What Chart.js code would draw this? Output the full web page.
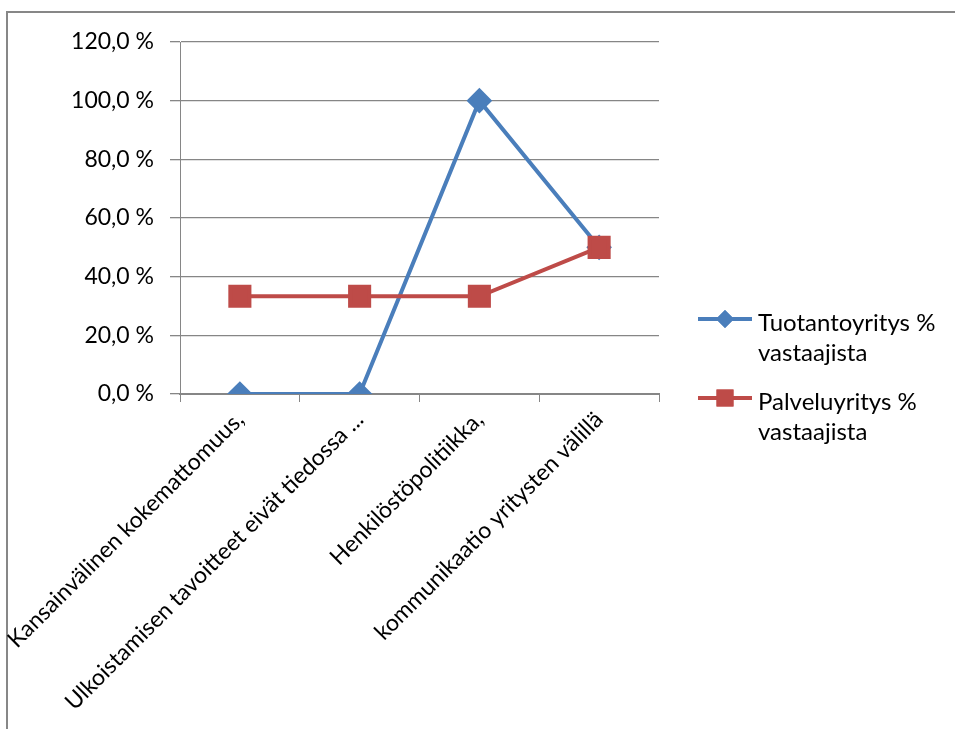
<!DOCTYPE html>
<html>
<head>
<meta charset="utf-8">
<script src="https://cdn.jsdelivr.net/npm/chart.js@4"></script>
<style>
  html, body { margin: 0; padding: 0; background: #fff; }
  #wrap { position: relative; width: 955px; height: 729px; }
  #frame { position: absolute; left: 6px; top: 11px; right: -10px; bottom: -10px;
           border-left: 2px solid #878787; border-top: 2px solid #878787; }
  canvas { position: absolute; left: 0; top: 0; }
</style>
</head>
<body>
<div id="wrap">
  <div id="frame"></div>
  <canvas id="chart" width="955" height="729"></canvas>
</div>
<script>
// Chart data
const categories = [
    'Kansainvälinen kokemattomuus,',
    'Ulkoistamisen tavoitteet eivät tiedossa ...',
    'Henkilöstöpolitiikka,',
    'kommunikaatio yritysten välillä'
];
const tuotantoValues = [0, 0, 100, 50];
const palveluValues = [33.3, 33.3, 33.3, 50];
const legendLines = [
    ['Tuotantoyritys %', 'vastaajista'],
    ['Palveluyritys %', 'vastaajista']
];

const blue = '#4A7EBB';
const red = '#BE4B48';
const gridColor = '#868686';
const fontFamily = 'Lato, "Open Sans", sans-serif';
const fontSize = 23;

// Legend drawn by hand so the labels can wrap like the original
const sideLegend = {
    id: 'sideLegend',
    afterDraw(chart) {
        const ctx = chart.ctx;
        const items = [
            { color: blue, style: 'rectRot', radius: 9, y: 319 },
            { color: red, style: 'rect', radius: 12, y: 398 }
        ];
        ctx.save();
        items.forEach((item, i) => {
            ctx.strokeStyle = item.color;
            ctx.lineWidth = 4;
            ctx.beginPath();
            ctx.moveTo(698, item.y);
            ctx.lineTo(752, item.y);
            ctx.stroke();
            ctx.fillStyle = item.color;
            Chart.helpers.drawPoint(ctx, { pointStyle: item.style, radius: item.radius, rotation: 0 }, 725, item.y);
            ctx.fill();
            ctx.fillStyle = '#000';
            ctx.font = '24px ' + fontFamily;
            ctx.textBaseline = 'middle';
            legendLines[i].forEach((line, j) => {
                ctx.fillText(line, 758, item.y + 4 + j * 30);
            });
        });
        ctx.restore();
    }
};

new Chart(document.getElementById('chart'), {
    type: 'line',
    data: {
        labels: categories,
        datasets: [{
            label: legendLines[0].join(' '),
            data: tuotantoValues,
            borderColor: blue,
            backgroundColor: blue,
            borderWidth: 4,
            pointStyle: 'rectRot',
            pointRadius: 10,
            tension: 0,
            order: 1
        }, {
            label: legendLines[1].join(' '),
            data: palveluValues,
            borderColor: red,
            backgroundColor: red,
            borderWidth: 4,
            pointStyle: 'rect',
            pointRadius: 13.5,
            tension: 0,
            order: 0
        }]
    },
    options: {
        responsive: false,
        animation: false,
        layout: { padding: { left: 0, top: 42, right: 296, bottom: 0 } },
        plugins: {
            legend: { display: false },
            tooltip: { enabled: false }
        },
        scales: {
            x: {
                offset: true,
                grid: {
                    offset: true,
                    drawOnChartArea: false,
                    drawTicks: true,
                    tickLength: 8,
                    color: gridColor,
                    lineWidth: 1
                },
                border: { color: gridColor, width: 2 },
                ticks: {
                    color: '#000',
                    font: { family: fontFamily, size: fontSize },
                    minRotation: 45,
                    maxRotation: 45,
                    autoSkip: false,
                    padding: 4
                },
                afterFit(scale) {
                    scale.height = 335;
                    scale.paddingLeft = 0;
                    scale.paddingRight = 0;
                }
            },
            y: {
                min: 0,
                max: 120,
                ticks: {
                    stepSize: 20,
                    color: '#000',
                    font: { family: fontFamily, size: fontSize },
                    padding: 16,
                    callback: v => v.toFixed(1).replace('.', ',') + ' %'
                },
                grid: {
                    color: gridColor,
                    lineWidth: 1.3,
                    tickLength: 10
                },
                border: { color: gridColor, width: 1 },
                afterFit(scale) {
                    scale.width = 180;
                    scale.paddingTop = 0;
                    scale.paddingBottom = 0;
                }
            }
        }
    },
    plugins: [sideLegend]
});
</script>
</body>
</html>
